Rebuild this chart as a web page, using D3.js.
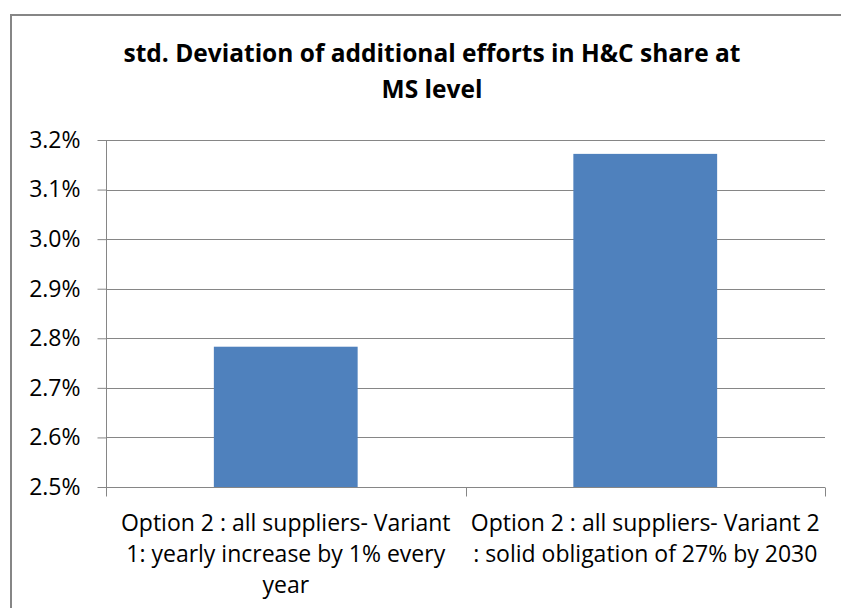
<!DOCTYPE html>
<html>
<head>
<meta charset="utf-8">
<script src="https://cdn.jsdelivr.net/npm/d3@7"></script>
<style>
  body { margin: 0; background: #fff; overflow: hidden; }
  svg { display: block; font-family: "Open Sans", sans-serif; }
</style>
</head>
<body>
<div id="chart-area"></div>
<script>
// chart data
var categories = ["Variant 1", "Variant 2"];
var categoryLines = [
    ["Option 2 : all suppliers- Variant", "1: yearly increase by 1% every", "year"],
    ["Option 2 : all suppliers- Variant 2", ": solid obligation of 27% by 2030"]
];
var values = [2.783, 3.172];
var yTicks = [2.5, 2.6, 2.7, 2.8, 2.9, 3.0, 3.1, 3.2];
var titleLines = ["std. Deviation of additional efforts in H&C share at", "MS level"];

var width = 841, height = 608;
var plotLeft = 106, plotRight = 825, plotTop = 140, plotBottom = 487;
var font = "'Open Sans', sans-serif";

var svg = d3.select("#chart-area").append("svg")
    .attr("width", width)
    .attr("height", height);

// outer frame (only top and left edges are inside the picture)
svg.append("path")
    .attr("d", "M11," + height + "V15H" + width)
    .attr("fill", "none")
    .attr("stroke", "#868686")
    .attr("stroke-width", 2);

svg.append("text")
    .attr("text-anchor", "middle")
    .attr("font-weight", "bold")
    .attr("font-size", 24.5)
    .attr("fill", "#000")
    .selectAll("tspan")
    .data(titleLines)
    .enter()
    .append("tspan")
    .attr("x", 432)
    .attr("y", (d, i) => 62 + i * 36)
    .text(d => d);

var x = d3.scaleBand()
    .domain(categories)
    .range([plotLeft, plotRight])
    .paddingInner(0)
    .paddingOuter(0);

var y = d3.scaleLinear()
    .domain([2.5, 3.2])
    .range([plotBottom, plotTop]);

// gridlines
svg.append("g")
    .selectAll("line")
    .data(yTicks.slice(1))
    .enter()
    .append("line")
    .attr("x1", plotLeft).attr("x2", plotRight)
    .attr("y1", d => Math.round(y(d)) + 0.5)
    .attr("y2", d => Math.round(y(d)) + 0.5)
    .attr("stroke", "#868686")
    .attr("stroke-width", 1);

// bars
var barW = x.bandwidth() * 0.4;
svg.selectAll("rect.bar")
    .data(values)
    .enter()
    .append("rect")
    .attr("class", "bar")
    .attr("x", (d, i) => x(categories[i]) + (x.bandwidth() - barW) / 2)
    .attr("y", d => y(d))
    .attr("width", barW)
    .attr("height", d => y(2.5) - y(d))
    .attr("fill", "#4f81bd");

// y axis
var yAxis = svg.append("g")
    .attr("transform", "translate(" + (plotLeft + 0.5) + ",0)")
    .call(d3.axisLeft(y).tickValues(yTicks).tickSize(9).tickPadding(17)
        .tickFormat(d => d3.format(".1f")(d) + "%"));
yAxis.select(".domain").attr("stroke", "#868686").attr("d", "M0," + plotTop + "V" + plotBottom);
yAxis.selectAll(".tick line").attr("stroke", "#868686");
yAxis.selectAll("text").attr("font-size", 23).attr("fill", "#000")
    .attr("font-family", font);

// x axis
var xAxis = svg.append("g")
    .attr("transform", "translate(0," + (Math.round(plotBottom) + 0.5) + ")")
    .call(d3.axisBottom(x).tickSize(0).tickFormat(""));
xAxis.select(".domain").attr("stroke", "#868686").attr("d", "M" + plotLeft + ",0H" + plotRight);
xAxis.selectAll("line.sep")
    .data([plotLeft, (plotLeft + plotRight) / 2, plotRight])
    .enter()
    .append("line")
    .attr("class", "sep")
    .attr("x1", d => Math.round(d) + 0.5).attr("x2", d => Math.round(d) + 0.5)
    .attr("y1", 0).attr("y2", 9)
    .attr("stroke", "#868686");

svg.append("g")
    .selectAll("text")
    .data(categories)
    .enter()
    .append("text")
    .attr("text-anchor", "middle")
    .attr("font-size", 23)
    .attr("fill", "#000")
    .each(function(d, i) {
        d3.select(this).selectAll("tspan")
            .data(categoryLines[i])
            .enter()
            .append("tspan")
            .attr("x", x(d) + x.bandwidth() / 2)
            .attr("y", (t, j) => 531 + j * 31)
            .text(t => t);
    });
</script>
</body>
</html>
